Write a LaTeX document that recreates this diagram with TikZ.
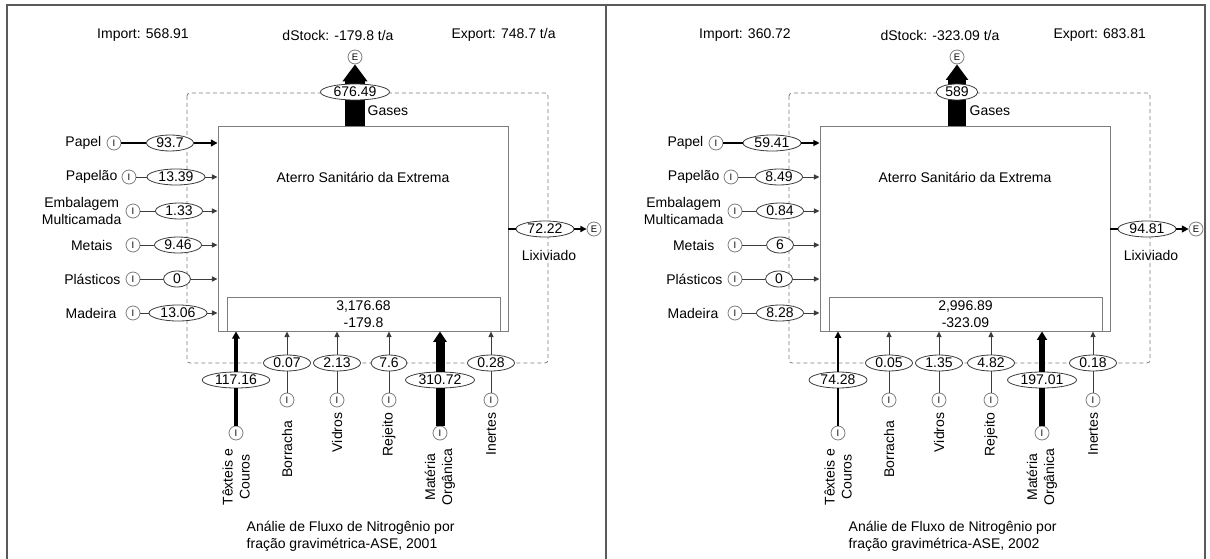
\documentclass[tikz,border=0pt]{standalone}
\usepackage{fontspec}
\setmainfont{Liberation Sans}
\usetikzlibrary{arrows.meta,shapes.geometric}
\definecolor{cinzaborda}{RGB}{125,125,125}
\definecolor{cinzafluxo}{RGB}{60,60,60}
\definecolor{cinzamoldura}{RGB}{90,90,90}

\tikzset{
  caixa/.style={draw=cinzaborda, line width=0.9pt, inner sep=0pt},
  fronteira/.style={draw=cinzaborda, line width=0.8pt, dash pattern=on 4pt off 3pt, rounded corners=3pt},
  valor/.style={ellipse, draw=cinzafluxo, fill=white, line width=0.8pt,
    inner xsep=3pt, inner ysep=0pt, minimum width=27pt, minimum height=16pt},
  proc/.style={circle, draw=cinzaborda, fill=white, line width=0.8pt,
    minimum size=14pt, inner sep=0pt, font=\fontsize{9.5}{9.5}\selectfont},
  rotulo/.style={inner sep=0.5pt, align=center},
  fluxo/.style={line width=#1},
  ponta/.style={-{Triangle[length=5pt 0.6, width=4pt 1]}},
  moldura/.style={draw=cinzamoldura, line width=1.2pt}
}

\begin{document}
\begin{tikzpicture}[x=1pt, y=-1pt, font=\fontsize{14}{17}\selectfont]
\useasboundingbox (0,0) rectangle (1210,559);
\draw[moldura] (7,559) -- (7,5) -- (1205,5) -- (1205,559);
\draw[moldura] (606,5) -- (606,559);

% ---- 2001
\begin{scope}[name prefix=a-]
  \node (imp) at (143,35) {Import: 568.91};
  \node (dst) at (338,35) {dStock: -179.8 t/a};
  \node[anchor=west] (exp) at (448,35) {Export: 748.7 t/a};
  \draw[fronteira] (187,93) rectangle (548,363);
  \node[caixa, minimum width=290pt, minimum height=205pt] (caixa) at (363,228.5) {};
  \node (nome) at (363,177) {Aterro Sanitário da Extrema};
  \node[caixa, minimum width=273pt, minimum height=34pt, align=center] (estoque) at (363.5,314) {3,176.68\\-179.8};
  % gases
  \node[proc] (gas-e) at (355,57) {E};
  \draw[fluxo=20pt, ponta] (caixa.north -| gas-e) -- (gas-e.south);
  \node[valor] (gas-v) at (355,92) {676.49};
  \node[rotulo, anchor=west] (gas-lab) at (367,111) {Gases};
  % lixiviado
  \node[proc] (lix-e) at (594,229) {E};
  \node[valor] (lix-v) at (545,229) {72.22};
  \draw[fluxo=2.2pt] (caixa.east |- lix-v) -- (lix-v);
  \draw[fluxo=2.2pt, ponta] (lix-v) -- (lix-e);
  \node[rotulo] (lix-lab) at (549,255) {Lixiviado};
  % entradas laterais
  \foreach \n/\txt/\xl/\xi/\xv/\y/\v/\w/\c in {
    pap/Papel/102/114/170/143/93.7/2.8pt/black,
    pao/Papelão/118/129/176/177/13.39/1pt/cinzafluxo,
    emb/{Embalagem\\Multicamada}/122/133/179/211/1.33/1pt/cinzafluxo,
    met/Metais/113/133/178/245/9.46/1pt/cinzafluxo,
    pla/Plásticos/121/133/177/279/0/1pt/cinzafluxo,
    mad/Madeira/117/133/178/313/13.06/1pt/cinzafluxo}{
    \node[rotulo, anchor=east] (\n-lab) at (\xl,\y) {\txt};
    \node[proc] (\n-i) at (\xi,\y) {I};
    \node[valor] (\n-v) at (\xv,\y) {\v};
    \draw[fluxo=\w, draw=\c] (\n-i) -- (\n-v);
    \draw[fluxo=\w, draw=\c, ponta] (\n-v) -- (\n-v -| caixa.west);
  }
  % entradas de baixo
  \foreach \n/\txt/\x/\yv/\yi/\yl/\v/\w/\c in {
    tex/{Têxteis e\\Couros}/236/380/433/448/117.16/3.5pt/black,
    bor/Borracha/287/363/400/420/0.07/1pt/cinzafluxo,
    vid/Vidros/337/363/400/412/2.13/1pt/cinzafluxo,
    rej/Rejeito/389/363/400/412/7.6/1pt/cinzafluxo,
    mat/{Matéria\\Orgânica}/440/380/433/448/310.72/9pt/black,
    ine/Inertes/491/363/400/412/0.28/1pt/cinzafluxo}{
    \node[proc] (\n-i) at (\x,\yi) {I};
    \node[valor] (\n-v) at (\x,\yv) {\v};
    \node[rotulo, rotate=90, anchor=east] (\n-lab) at (\x,\yl) {\txt};
    \draw[fluxo=\w, draw=\c] (\n-i) -- (\n-v);
    \draw[fluxo=\w, draw=\c, ponta] (\n-v) -- (\n-v |- caixa.south);
  }
  \node[rotulo, anchor=west, align=left] (leg) at (246,536) {Análie de Fluxo de Nitrogênio por\\fração gravimétrica-ASE, 2001};
\end{scope}

% ---- 2002
\begin{scope}[xshift=602pt, name prefix=b-]
  \node (imp) at (143,35) {Import: 360.72};
  \node (dst) at (338,35) {dStock: -323.09 t/a};
  \node[anchor=west] (exp) at (448,35) {Export: 683.81};
  \draw[fronteira] (187,93) rectangle (548,363);
  \node[caixa, minimum width=290pt, minimum height=205pt] (caixa) at (363,228.5) {};
  \node (nome) at (363,177) {Aterro Sanitário da Extrema};
  \node[caixa, minimum width=273pt, minimum height=34pt, align=center] (estoque) at (363.5,314) {2,996.89\\-323.09};
  % gases
  \node[proc] (gas-e) at (355,57) {E};
  \draw[fluxo=17.5pt, ponta] (caixa.north -| gas-e) -- (gas-e.south);
  \node[valor] (gas-v) at (355,92) {589};
  \node[rotulo, anchor=west] (gas-lab) at (367,111) {Gases};
  % lixiviado
  \node[proc] (lix-e) at (594,229) {E};
  \node[valor] (lix-v) at (545,229) {94.81};
  \draw[fluxo=2.8pt] (caixa.east |- lix-v) -- (lix-v);
  \draw[fluxo=2.8pt, ponta] (lix-v) -- (lix-e);
  \node[rotulo] (lix-lab) at (549,255) {Lixiviado};
  % entradas laterais
  \foreach \n/\txt/\xl/\xi/\xv/\y/\v/\w/\c in {
    pap/Papel/102/114/170/143/59.41/1.8pt/black,
    pao/Papelão/118/129/177/177/8.49/1pt/cinzafluxo,
    emb/{Embalagem\\Multicamada}/122/133/178/211/0.84/1pt/cinzafluxo,
    met/Metais/113/133/178/245/6/1pt/cinzafluxo,
    pla/Plásticos/121/133/177/279/0/1pt/cinzafluxo,
    mad/Madeira/117/133/178/313/8.28/1pt/cinzafluxo}{
    \node[rotulo, anchor=east] (\n-lab) at (\xl,\y) {\txt};
    \node[proc] (\n-i) at (\xi,\y) {I};
    \node[valor] (\n-v) at (\xv,\y) {\v};
    \draw[fluxo=\w, draw=\c] (\n-i) -- (\n-v);
    \draw[fluxo=\w, draw=\c, ponta] (\n-v) -- (\n-v -| caixa.west);
  }
  % entradas de baixo
  \foreach \n/\txt/\x/\yv/\yi/\yl/\v/\w/\c in {
    tex/{Têxteis e\\Couros}/236/380/433/448/74.28/2.2pt/black,
    bor/Borracha/287/363/400/420/0.05/1pt/cinzafluxo,
    vid/Vidros/337/363/400/412/1.35/1pt/cinzafluxo,
    rej/Rejeito/389/363/400/412/4.82/1pt/cinzafluxo,
    mat/{Matéria\\Orgânica}/440/380/433/448/197.01/5.9pt/black,
    ine/Inertes/491/363/400/412/0.18/1pt/cinzafluxo}{
    \node[proc] (\n-i) at (\x,\yi) {I};
    \node[valor] (\n-v) at (\x,\yv) {\v};
    \node[rotulo, rotate=90, anchor=east] (\n-lab) at (\x,\yl) {\txt};
    \draw[fluxo=\w, draw=\c] (\n-i) -- (\n-v);
    \draw[fluxo=\w, draw=\c, ponta] (\n-v) -- (\n-v |- caixa.south);
  }
  \node[rotulo, anchor=west, align=left] (leg) at (246,536) {Análie de Fluxo de Nitrogênio por\\fração gravimétrica-ASE, 2002};
\end{scope}
\end{tikzpicture}
\end{document}
